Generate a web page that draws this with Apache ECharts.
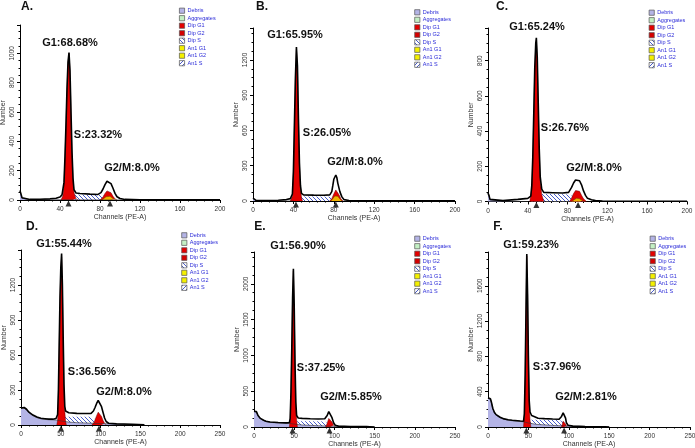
<!DOCTYPE html>
<html><head><meta charset="utf-8">
<script src="https://cdn.jsdelivr.net/npm/echarts@6/dist/echarts.min.js"></script>
<style>html,body{margin:0;padding:0;background:#fff}#c{width:695px;height:448px}</style>
</head><body><div id="c"></div>
<script>
// ---------------- DATA (channel, count) ----------------
const A_total = [[0,65],[1,40],[2,15],[4,6],[10,4],[20,5],[30,8],[36,12],[40,20],[42,35],[44,120],[45,300],[46,520],[47,760],[48,940],[49,1005],[50,880],[51,600],[52,330],[53,150],[54,70],[56,48],[60,44],[70,40],[78,38],[81,50],[83,75],[85,105],[87,128],[88,134],[89,130],[91,112],[93,80],[95,45],[97,22],[100,10],[105,4],[120,2],[200,1]];
const A_debris = [[0,62],[1,38],[2,12],[4,3],[10,2],[30,2],[60,1],[120,0]];
const A_g1 = [[41,0],[43,30],[44,110],[45,290],[46,510],[47,750],[48,930],[49,1000],[50,870],[51,590],[52,320],[53,140],[54,50],[56,10],[58,0]];
const A_s = [[42,0],[44,15],[48,30],[54,38],[70,36],[82,34],[86,20],[90,5],[92,0]];
const A_g2 = [[80,0],[83,20],[85,45],[87,62],[88,68],[89,66],[91,50],[93,25],[95,8],[97,0]];
const A_an1 = [[82,0],[84,10],[86,22],[88,27],[90,25],[92,15],[94,5],[96,0]];

const B_total = [[0,25],[1,15],[3,6],[10,4],[25,6],[33,12],[37,20],[39,60],[40,250],[41,650],[42,1050],[43,1310],[44,1150],[45,700],[46,320],[47,130],[48,65],[50,52],[60,50],[70,49],[76,52],[78,80],[79,130],[80,185],[81,195],[82,221],[83,200],[84,150],[86,80],[88,35],[90,12],[95,4],[110,2],[200,1]];
const B_debris = [[0,22],[1,12],[3,3],[10,1],[40,0]];
const B_g1 = [[37,0],[39,40],[40,230],[41,630],[42,1030],[43,1290],[44,1130],[45,680],[46,300],[47,110],[48,30],[49,0]];
const B_s = [[38,0],[42,20],[47,38],[60,38],[75,36],[80,25],[84,8],[86,0]];
const B_g2 = [[76,0],[78,20],[80,60],[82,94],[83,90],[85,55],[87,20],[89,0]];
const B_an1 = [[77,0],[79,20],[81,42],[82,48],[84,40],[86,18],[88,0]];

const C_total = [[0,48],[1,35],[2,12],[4,5],[15,5],[30,12],[40,18],[43,30],[44,90],[45,250],[46,500],[47,760],[48,900],[48.6,930],[49.5,820],[50.5,560],[51.5,300],[52.5,140],[54,70],[56,52],[65,50],[75,48],[81,52],[84,80],[86,105],[88,122],[90,127],[92,118],[94,95],[96,60],[98,35],[100,18],[104,10],[108,5],[115,2],[200,1]];
const C_debris = [[0,45],[1,32],[2,10],[4,2],[15,1],[40,0]];
const C_g1 = [[42,0],[44,70],[45,230],[46,480],[47,740],[48,880],[48.6,915],[49.5,800],[50.5,540],[51.5,280],[52.5,120],[54,40],[56,0]];
const C_s = [[43,0],[47,20],[54,42],[70,42],[82,40],[88,20],[94,5],[98,0]];
const C_g2 = [[82,0],[84,20],[86,45],[88,62],[90,66],[92,58],[94,35],[96,15],[99,0]];
const C_an1 = [[84,0],[86,10],[89,19],[92,15],[95,5],[97,0]];

const D_total = [[0,145],[2,140],[4,150],[5,157],[7,135],[10,110],[15,85],[20,68],[25,58],[30,54],[35,50],[40,50],[44,55],[46,90],[47,300],[48,700],[49,1100],[50,1350],[51,1470],[52,1200],[53,750],[54,350],[55,160],[56,120],[58,105],[60,105],[70,100],[80,98],[88,100],[91,120],[93,150],[95,185],[97,210],[98,214],[99,200],[101,160],[103,110],[105,60],[107,30],[110,15],[120,10],[140,6],[155,2]];
const D_debris = [[0,140],[2,135],[4,145],[5,150],[7,130],[10,105],[15,80],[20,63],[25,53],[30,48],[35,45],[40,44],[45,42],[50,35],[60,25],[70,20],[90,15],[110,10],[130,5],[155,0]];
const D_g1 = [[45,0],[46,40],[47,260],[48,660],[49,1060],[50,1310],[51,1440],[52,1170],[53,720],[54,320],[55,120],[56,30],[57,0]];
const D_s = [[46,0],[50,40],[56,71],[70,71],[88,70],[93,50],[98,20],[103,0]];
const D_g2 = [[89,0],[92,25],[95,80],[97,110],[98,114],[99,105],[101,75],[103,40],[105,15],[107,0]];
const D_an1 = [];

const E_total = [[0,220],[1,232],[2,233],[3,215],[5,160],[8,120],[12,95],[15,80],[20,70],[30,62],[40,58],[44,60],[45,120],[46,500],[47,1100],[48,1800],[49,2210],[50,1700],[51,900],[52,350],[53,160],[55,125],[60,120],[70,115],[80,112],[88,115],[91,160],[93,215],[94,233],[95,210],[97,130],[99,60],[101,25],[105,12],[120,8],[140,5],[142,12],[144,4],[150,0]];
const E_debris = [[0,215],[1,228],[2,228],[3,210],[5,155],[8,115],[12,90],[15,75],[20,65],[30,57],[40,53],[45,50],[50,40],[60,28],[80,18],[100,10],[130,4],[150,0]];
const E_g1 = [[44,0],[45,100],[46,480],[47,1080],[48,1780],[49,2180],[50,1680],[51,880],[52,330],[53,100],[54,0]];
const E_s = [[45,0],[49,40],[54,80],[70,80],[88,78],[92,50],[96,15],[100,0]];
const E_g2 = [[89,0],[91,50],[93,120],[94,140],[95,125],[97,70],[99,25],[101,0]];
const E_an1 = [];

const F_total = [[0,330],[1,328],[2,325],[3,321],[4,290],[6,210],[8,165],[10,140],[15,110],[20,92],[25,83],[30,76],[40,68],[44,66],[45,150],[46,600],[47,1300],[48,1960],[49,1500],[50,800],[51,300],[52,170],[53,158],[54,130],[55,125],[57,120],[59,110],[62,100],[70,95],[80,90],[88,88],[91,120],[93,160],[94,177],[95,150],[96,100],[97,50],[99,20],[105,10],[120,6],[145,2],[150,0]];
const F_debris = [[0,325],[1,322],[2,320],[3,316],[4,285],[6,205],[8,160],[10,135],[15,105],[20,87],[25,78],[30,71],[40,63],[45,58],[50,45],[60,30],[80,18],[100,10],[130,4],[150,0]];
const F_g1 = [[44,0],[45,130],[46,580],[47,1280],[48,1940],[49,1480],[50,780],[51,280],[52,80],[53,0]];
const F_s = [[45,0],[49,40],[53,83],[70,83],[88,82],[92,60],[96,20],[99,0]];
const F_g2 = [[91,0],[92,30],[93,65],[94,83],[95,70],[96,35],[97,10],[98,0]];
const F_an1 = [];

const panelLetters = ['A.','B.','C.','D.','E.','F.'];
const g1Labels = ['G1:68.68%','G1:65.95%','G1:65.24%','G1:55.44%','G1:56.90%','G1:59.23%'];
const sLabels = ['S:23.32%','S:26.05%','S:26.76%','S:36.56%','S:37.25%','S:37.96%'];
const g2Labels = ['G2/M:8.0%','G2/M:8.0%','G2/M:8.0%','G2/M:8.0%','G2/M:5.85%','G2/M:2.81%'];
const legendNames = ['Debris','Aggregates','Dip G1','Dip G2','Dip S','An1 G1','An1 G2','An1 S'];
const xMaxes = [200,200,200,250,250,250];
const xIntervals = [40,40,40,50,50,50];
const yMaxes = [1193,1472,986,1500,2444,1983];
const yIntervals = [200,300,200,300,500,400];
const g1Pos = [48.5,42.5,48.6,50.3,48,47.5];
const g2Pos = [90,82,90.5,98,94,94.2];
const xName = 'Channels (PE-A)';
const yName = 'Number';

const totals = [A_total,B_total,C_total,D_total,E_total,F_total];
const debrisS = [A_debris,B_debris,C_debris,D_debris,E_debris,F_debris];
const g1S = [A_g1,B_g1,C_g1,D_g1,E_g1,F_g1];
const sS = [A_s,B_s,C_s,D_s,E_s,F_s];
const g2S = [A_g2,B_g2,C_g2,D_g2,E_g2,F_g2];
const an1S = [A_an1,B_an1,C_an1,D_an1,E_an1,F_an1];

// ---------------- LAYOUT / STYLE ----------------
const grids = [
  {left:20, top:25, width:200, height:175},
  {left:253, top:28, width:202, height:173},
  {left:488, top:28, width:199, height:173.5},
  {left:21, top:250, width:199, height:175},
  {left:254, top:252, width:201, height:175},
  {left:488, top:252, width:202, height:175}
];
const letterPos = [[27,7],[262,7],[502,7],[32,227],[260,227],[498,227]];
const g1TextPos = [[70,43],[295,35],[537,27],[64,244],[298,246],[531,245]];
const sTextPos = [[98,135],[327,133],[565,128],[92,372],[321,368],[557,367]];
const g2TextPos = [[132,168],[355,162],[594,168],[124,392],[351,397],[586,397]];
const legendPos = [[182,10.7],[417.3,12.3],[651.7,12.7],[184.3,235.3],[417.3,238.7],[652.7,238.7]];

function hatch(back){
  const c = document.createElement('canvas'); c.width = 4; c.height = 4;
  const g = c.getContext('2d');
  g.fillStyle = '#ffffff'; g.fillRect(0,0,4,4);
  g.strokeStyle = '#4a5cc8'; g.lineWidth = 1;
  g.beginPath();
  if (back) { g.moveTo(0,0); g.lineTo(4,4); g.moveTo(-1,3); g.lineTo(1,5); g.moveTo(3,-1); g.lineTo(5,1); }
  else { g.moveTo(4,0); g.lineTo(0,4); g.moveTo(-1,1); g.lineTo(1,-1); g.moveTo(3,5); g.lineTo(5,3); }
  g.stroke();
  return c;
}
const hatchBack = {image: hatch(true), repeat: 'repeat'};
const hatchFwd = {image: hatch(false), repeat: 'repeat'};
const RED = '#e40000', LAV = '#b4b4e6', YEL = '#f2b400';
const legendColors = [LAV,'#c4f0c4','#e40000','#d40000',hatchBack,'#f4f000','#f4f000',hatchFwd];

const FONT = 'Liberation Sans';
const option = {
  animation: false,
  backgroundColor: '#fff',
  grid: [], xAxis: [], yAxis: [], series: [], graphic: []
};

for (let i = 0; i < 6; i++) {
  option.grid.push(Object.assign({containLabel:false, outerBoundsMode:'none'}, grids[i]));
  option.xAxis.push({
    type:'value', gridIndex:i, min:0, max:xMaxes[i], interval:xIntervals[i],
    name:xName, nameLocation:'middle', nameGap:13,
    nameTextStyle:{fontSize:7, color:'#333', fontFamily:FONT},
    axisLine:{lineStyle:{color:'#000', width:1}},
    axisTick:{length:3, lineStyle:{color:'#000'}},
    minorTick:{show:true, splitNumber:5, length:1.5, lineStyle:{color:'#000'}},
    axisLabel:{fontSize:6.5, color:'#333', margin:6, fontFamily:FONT, formatter:v => String(v)},
    splitLine:{show:false}
  });
  option.yAxis.push({
    type:'value', gridIndex:i, min:0, max:yMaxes[i], interval:yIntervals[i],
    name:yName, nameLocation:'middle', nameGap:13,
    nameTextStyle:{fontSize:7, color:'#333', fontFamily:FONT},
    axisLine:{show:true, lineStyle:{color:'#000', width:1}},
    axisTick:{show:true, length:3, lineStyle:{color:'#000'}},
    minorTick:{show:true, splitNumber:4, length:1.5, lineStyle:{color:'#000'}},
    axisLabel:{fontSize:6.5, color:'#333', margin:4, rotate:90, showMaxLabel:false, fontFamily:FONT, formatter:v => String(v)},
    splitLine:{show:false}
  });
  const base = {type:'line', xAxisIndex:i, yAxisIndex:i, symbol:'none', silent:true};
  option.series.push(Object.assign({}, base, {name:'Dip S', data:sS[i], lineStyle:{width:0}, areaStyle:{color:hatchBack, opacity:1}}));
  option.series.push(Object.assign({}, base, {name:'Debris', data:debrisS[i], lineStyle:{width:0.6, color:'#333'}, areaStyle:{color:LAV, opacity:1}}));
  option.series.push(Object.assign({}, base, {name:'Dip G1', data:g1S[i], lineStyle:{width:0.5, color:'#600'}, areaStyle:{color:RED, opacity:1}}));
  option.series.push(Object.assign({}, base, {name:'Dip G2', data:g2S[i], lineStyle:{width:0.5, color:'#600'}, areaStyle:{color:RED, opacity:1}}));
  if (an1S[i].length) option.series.push(Object.assign({}, base, {name:'An1 G2', data:an1S[i], lineStyle:{width:0.5, color:'#640'}, areaStyle:{color:YEL, opacity:1}}));
  option.series.push(Object.assign({}, base, {name:'Total', data:totals[i], lineStyle:{width:1.6, color:'#000'}}));
  option.series.push({type:'scatter', xAxisIndex:i, yAxisIndex:i, silent:true, clip:false,
    symbol:'triangle', symbolSize:[6,6], symbolOffset:[0,3.5], itemStyle:{color:'#000'},
    data:[[g1Pos[i],0],[g2Pos[i],0]]});

  const bold = {fontSize:11, fontWeight:'bold', fill:'#111', fontFamily:FONT, align:'center', verticalAlign:'middle'};
  option.graphic.push({type:'text', x:letterPos[i][0], y:letterPos[i][1], style:Object.assign({}, bold, {text:panelLetters[i], fontSize:12})});
  option.graphic.push({type:'text', x:g1TextPos[i][0], y:g1TextPos[i][1], style:Object.assign({}, bold, {text:g1Labels[i]})});
  option.graphic.push({type:'text', x:sTextPos[i][0], y:sTextPos[i][1], style:Object.assign({}, bold, {text:sLabels[i]})});
  option.graphic.push({type:'text', x:g2TextPos[i][0], y:g2TextPos[i][1], style:Object.assign({}, bold, {text:g2Labels[i]})});
  const [lx, ly] = legendPos[i];
  legendNames.forEach((n, k) => {
    option.graphic.push({type:'rect', shape:{x:lx-2.6, y:ly+k*7.5-2.6, width:5.2, height:5.2},
      style:{fill:legendColors[k], stroke:'#555', lineWidth:0.7}});
    option.graphic.push({type:'text', x:lx+5.5, y:ly+k*7.5, style:{text:n, fontSize:5.5, fill:'#2a2ad8', fontFamily:FONT, verticalAlign:'middle'}});
  });
}

const chart = echarts.init(document.getElementById('c'), null, {renderer:'canvas'});
chart.setOption(option);
</script></body></html>
